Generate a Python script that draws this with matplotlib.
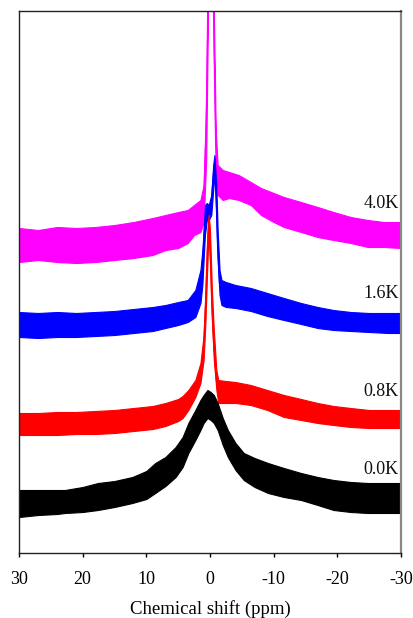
import matplotlib
matplotlib.use("Agg")
import matplotlib.pyplot as plt
import numpy as np

# ---- data (chemical shift in ppm, intensity in arbitrary stacked units) ----
# 4.0K (magenta)
ppm_40 = [30, 27, 24, 21, 18, 15, 12, 9, 7, 5, 3.5, 2.5, 1.5, 1.0, 0.6, 0.4, 0.1, -0.1, -0.4, -0.6,
          -0.9, -1.2, -2, -3, -4.5, -6.4, -8, -10, -11.6, -14.3, -16.9, -19.4, -22.1, -24.8, -27.3, -30]
hi_40 = [325, 323, 326, 325, 326, 328, 331, 335, 338, 341, 343, 348, 353, 368, 453, 543, 703, 753, 653, 543,
         423, 388, 383, 381, 378, 371, 365, 360, 356, 351, 346, 341, 336, 333, 331, 331]
lo_40 = [291, 293, 291, 290, 291, 293, 295, 298, 303, 305, 310, 318, 321, 331, 393, 493, 653, 703, 603, 503,
         393, 358, 353, 355, 353, 348, 338, 331, 326, 321, 316, 313, 310, 306, 306, 305]

# 1.6K (blue)
ppm_16 = [30, 27, 24, 21, 18, 15, 12, 9, 7, 5, 3.5, 2.3, 1.5, 1.2, 1.0, 0.8, 0.5, 0.2, -0.2, -0.5,
          -0.7, -0.9, -1.2, -1.5, -1.8, -2.5, -4, -6.4, -9, -11.6, -14.3, -16.9, -19.4, -22.1, -25, -28, -30]
hi_16 = [241, 240, 241, 240, 241, 242, 244, 246, 248, 251, 253, 263, 283, 303, 323, 348, 350, 348, 358, 388,
         398, 388, 323, 283, 273, 271, 268, 265, 260, 255, 250, 246, 243, 241, 240, 240, 240]
lo_16 = [216, 215, 216, 216, 217, 218, 220, 222, 225, 228, 231, 236, 250, 268, 293, 318, 333, 333, 338, 363,
         378, 353, 293, 258, 248, 246, 245, 242, 237, 233, 229, 225, 223, 222, 221, 220, 220]

# 0.8K (red)
ppm_08 = [30, 27, 24, 21, 18, 15, 12, 9, 7, 5, 4.3, 3.4, 2.3, 1.5, 1.0, 0.7, 0.5, 0.3, 0.2, 0.0,
          -0.3, -0.6, -1.0, -1.3, -2.5, -4, -6.4, -9, -11.6, -14.3, -16.9, -19.4, -22.1, -25, -28, -30]
hi_08 = [140, 140, 141, 141, 142, 143, 145, 147, 150, 154, 157, 163, 173, 190, 218, 263, 303, 333, 338, 323,
         263, 223, 183, 173, 172, 171, 168, 163, 158, 154, 150, 147, 145, 143, 143, 143]
lo_08 = [118, 118, 118, 119, 119, 120, 122, 124, 127, 132, 135, 143, 156, 170, 193, 233, 273, 308, 318, 293,
         233, 193, 163, 150, 150, 150, 148, 143, 136, 133, 130, 128, 126, 125, 125, 125]

# 0.0K (black)
ppm_00 = [30, 27, 24, 22.8, 20, 17.6, 15, 12.2, 10, 8.6, 7, 5.4, 4.3, 3.4, 2.3, 1.5, 1.0, 0.4, -0.1,
          -0.6, -1.2, -2.0, -2.8, -4, -5.3, -7, -9.1, -11.6, -14.3, -16.9, -19.4, -22.1, -24.8, -27.3, -30]
hi_00 = [63, 63, 63, 63, 66, 70, 72, 76, 82, 90, 96, 106, 116, 130, 143, 153, 158, 163, 161,
         158, 150, 135, 123, 110, 100, 95, 90, 85, 80, 76, 73, 71, 70, 70, 70]
lo_00 = [36, 38, 39, 40, 41, 43, 46, 50, 54, 60, 67, 76, 86, 100, 113, 123, 130, 135, 133,
         130, 123, 108, 96, 83, 73, 66, 60, 56, 53, 48, 43, 41, 40, 40, 40]

labels = ["4.0K", "1.6K", "0.8K", "0.0K"]
label_y = [350, 260, 161, 83]
colors = ["#ff00ff", "#0000ff", "#ff0000", "#000000"]
xticks = [30, 20, 10, 0, -10, -20, -30]

series = [(ppm_40, hi_40, lo_40), (ppm_16, hi_16, lo_16), (ppm_08, hi_08, lo_08), (ppm_00, hi_00, lo_00)]

plt.rcParams["font.family"] = ["Liberation Serif", "DejaVu Serif"]

fig = plt.figure(figsize=(4.14, 6.18), dpi=100)
ax = fig.add_axes([19 / 414, 65 / 618, 382 / 414, 542 / 618])

for (x, hi, lo), c in zip(series, colors):
    x = np.array(x)
    hi = np.array(hi)
    lo = np.array(lo)
    ax.fill_between(x, lo, hi, color=c, linewidth=0.8, edgecolor=c)
    ax.plot(x, (hi + lo) / 2, color=c, linewidth=1.0)

for lab, y in zip(labels, label_y):
    ax.text(-29.6, y, lab, ha="right", va="center", fontsize=13, color="#111111")

ax.set_xlim(30, -30)
ax.set_ylim(0, 542)
ax.set_xticks(xticks)
ax.set_xticklabels([str(t) for t in xticks], fontsize=13)
ax.set_yticks([])
ax.tick_params(axis="x", direction="out", length=3, width=1, pad=10)
ax.set_xlabel("Chemical shift (ppm)", fontsize=13.5, labelpad=9)
for s in ["left", "bottom", "top"]:
    ax.spines[s].set_color("#222222")
    ax.spines[s].set_linewidth(1.0)
ax.spines["right"].set_color("#888888")
ax.spines["right"].set_linewidth(1.6)

fig.savefig("out.png", dpi=100)
